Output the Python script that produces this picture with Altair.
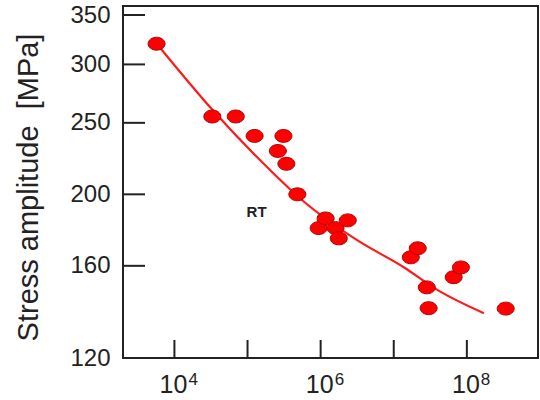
import altair as alt
import pandas as pd

# Measured data (cycles to failure, stress amplitude in MPa)
cycles = [5.7e3, 3.3e4, 6.9e4, 1.25e5, 2.6e5, 3.1e5, 3.4e5, 4.8e5,
          9.4e5, 1.17e6, 1.6e6, 1.77e6, 2.35e6,
          1.71e7, 2.13e7, 2.83e7, 3.0e7, 6.6e7, 8.3e7, 3.4e8]
stress = [320, 255, 255, 240, 229, 240, 220, 200,
          180, 185.5, 180, 174.3, 184.4,
          164.3, 169, 149.6, 140.2, 154.4, 159.2, 140]

# Fitted S-N curve
curve_n = [6.4e3, 3.4e4, 2.07e5, 5.66e5, 3.2e6, 1.37e7, 4.0e7, 1.71e8]
curve_s = [315.8, 259.6, 215.4, 196.2, 173.2, 159.3, 148.3, 138.0]

# Axis ticks / labels
y_ticks = [120, 160, 200, 250, 300, 350]
y_tick_marks = [160, 200, 250, 300, 350]
x_ticks = [1e4, 1e5, 1e6, 1e7, 1e8]
x_label_vals = [1e4, 1e6, 1e8]
x_label_exps = ["4", "6", "8"]

annot_text = ["RT"]
annot_n = [1.33e5]
annot_s = [189]

W, H = 415, 352
FONT = "Liberation Sans"
INK = "#222222"

xs = alt.Scale(type="log", domain=[1980, 9.4e8], nice=False)
ys = alt.Scale(type="log", domain=[120, 360], nice=False)

y_axis = alt.Axis(
    values=y_ticks, ticks=False, domain=False, grid=False,
    labelFontSize=24, labelFont=FONT, labelColor=INK, labelPadding=13,
    title="Stress amplitude\u00a0 [MPa]", titleFont=FONT, titleFontSize=29,
    titleFontWeight="normal", titleColor=INK, titleX=-86, titleY=181,
    titleBaseline="alphabetic", titleAlign="center", titleAngle=270)

pts = pd.DataFrame({"N": cycles, "S": stress})
crv = pd.DataFrame({"N": curve_n, "S": curve_s})
ytk = pd.DataFrame({"S": y_tick_marks})
xtk = pd.DataFrame({"N": x_ticks})
xlb = pd.DataFrame({"N": x_label_vals, "base": ["10"] * len(x_label_vals), "exp": x_label_exps})
ann = pd.DataFrame({"N": annot_n, "S": annot_s, "t": annot_text})

ellipse = "M-1,0A1,0.76,0,1,1,1,0A1,0.76,0,1,1,-1,0Z"

line = alt.Chart(crv).mark_line(color="#ff1a1a", strokeWidth=2.2, interpolate="monotone").encode(
    x=alt.X("N:Q", scale=xs, axis=None),
    y=alt.Y("S:Q", scale=ys, axis=y_axis),
)

points = alt.Chart(pts).mark_point(
    shape=ellipse, filled=True, fill="#ff0000", stroke="#b00000",
    strokeWidth=1, size=289, opacity=1
).encode(
    x=alt.X("N:Q", scale=xs, axis=None),
    y=alt.Y("S:Q", scale=ys, axis=y_axis),
)

yticks = alt.Chart(ytk).mark_rule(color=INK, strokeWidth=2).encode(
    y=alt.Y("S:Q", scale=ys, axis=y_axis),
    x=alt.value(0), x2=alt.value(22),
)

xticks = alt.Chart(xtk).mark_rule(color=INK, strokeWidth=2).encode(
    x=alt.X("N:Q", scale=xs, axis=None),
    y=alt.value(H - 18), y2=alt.value(H),
)

xbase = alt.Chart(xlb).mark_text(
    font=FONT, fontSize=25, color=INK, align="right", baseline="alphabetic", dx=13
).encode(
    x=alt.X("N:Q", scale=xs, axis=None),
    y=alt.value(H + 35),
    text="base:N",
)

xexp = alt.Chart(xlb).mark_text(
    font=FONT, fontSize=17, color=INK, align="left", baseline="alphabetic", dx=14
).encode(
    x=alt.X("N:Q", scale=xs, axis=None),
    y=alt.value(H + 27),
    text="exp:N",
)

annot = alt.Chart(ann).mark_text(
    font=FONT, fontSize=15, fontWeight="bold", color=INK, align="center", baseline="middle"
).encode(
    x=alt.X("N:Q", scale=xs, axis=None),
    y=alt.Y("S:Q", scale=ys, axis=y_axis),
    text="t:N",
)

chart = alt.layer(line, yticks, xticks, points, annot, xbase, xexp).properties(
    width=W, height=H,
    autosize=alt.AutoSizeParams(type="none"),
    padding={"left": 123, "top": 6, "right": 2, "bottom": 42},
    background="white",
).configure_view(stroke=INK, strokeWidth=2)

chart.save("out.html", embed_options={"renderer": "svg", "actions": False})
